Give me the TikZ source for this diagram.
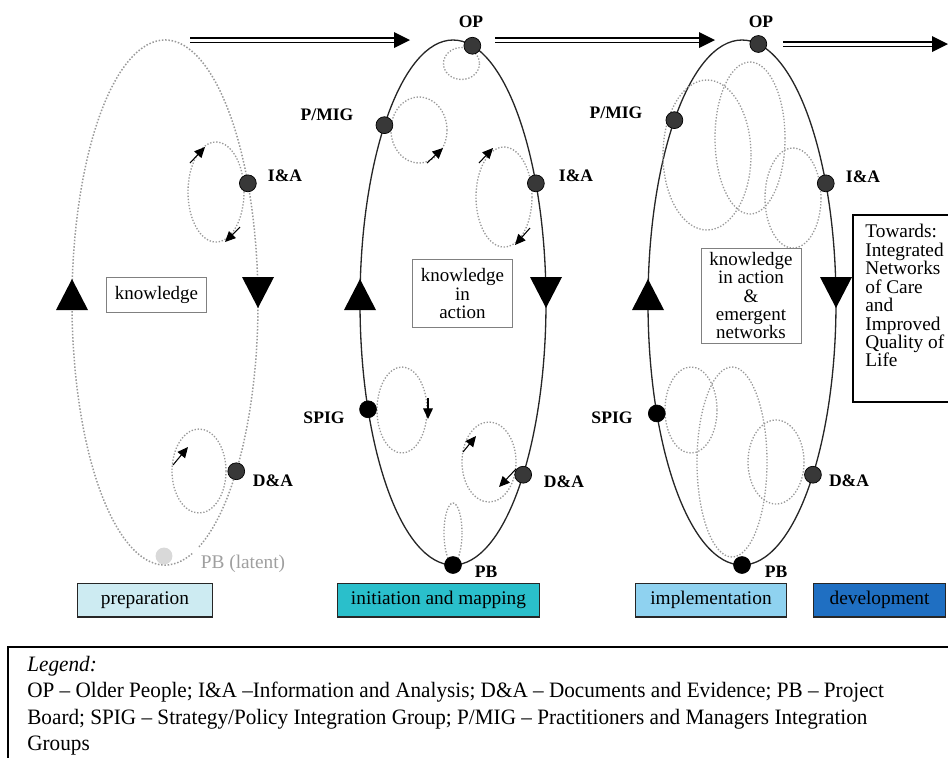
\documentclass[tikz,border=0pt]{standalone}
\usepackage{fontspec}
\setmainfont{Liberation Serif}
\newfontfamily\legendfont[Ligatures=TeX, FakeStretch=0.965]{Liberation Serif}
\usetikzlibrary{arrows.meta,positioning}

\definecolor{prepcol}{HTML}{CDEBF2}
\definecolor{initcol}{HTML}{2ABFCB}
\definecolor{implcol}{HTML}{8FD2F0}
\definecolor{devcol}{HTML}{1F6FC2}

\begin{document}
\begin{tikzpicture}[x=0.2mm, y=-0.2mm, >=Latex,
    every node/.style={font=\fontsize{10}{12}\selectfont},
    dot/.style={circle, draw=black, fill=black!78, inner sep=0pt, minimum size=9.6pt},
    blackdot/.style={dot, fill=black},
    tag/.style={font=\fontsize{10}{12}\selectfont\bfseries},
    cycleline/.style={line width=0.75pt, black!85},
    subloop/.style={gray!80, densely dotted, line width=0.75pt},
    tip/.style={-{Triangle[length=6pt,width=5.5pt]}, line width=0.6pt},
    flow/.style={double, double distance=1.7pt, line width=0.7pt, shorten >=7pt},
    kbox/.style={draw=gray, fill=white, align=center, minimum width=57pt, inner sep=2pt, font=\fontsize{10.8}{10.5}\selectfont},
    phase/.style={draw=black!85, line width=0.6pt, minimum height=19.3pt, font=\fontsize{11}{13}\selectfont}]
    \useasboundingbox (0,0) rectangle (948,758);

    % the three cycles
    \coordinate (c1) at (165,302.5);
    \coordinate (c2) at (453,302.5);
    \coordinate (c3) at (742,302.5);
    \draw[gray!80, densely dotted, line width=0.85pt] (c1) ++(73:93 and 262.5) arc[start angle=73, end angle=429, x radius=93, y radius=262.5];
    \draw[cycleline] (c2) ellipse[x radius=93, y radius=262.5];
    \draw[cycleline] (c3) ellipse[x radius=94, y radius=262.5];
    \foreach \cx/\rx in {165/93,453/93,742/94} {
        \fill (\cx-\rx-16,310) -- (\cx-\rx+16,310) -- (\cx-\rx,279) -- cycle;
        \fill (\cx+\rx-16,277) -- (\cx+\rx+16,277) -- (\cx+\rx,308) -- cycle;
    }

    % double arrows between the phases
    \coordinate (s1) at (190,40);  \coordinate (e1) at (410,40);
    \coordinate (s2) at (495,40);  \coordinate (e2) at (715,40);
    \coordinate (s3) at (783,44);  \coordinate (e3) at (948,44);
    \foreach \s/\e in {s1/e1,s2/e2,s3/e3} {
        \draw[flow] (\s) -- (\e);
        \fill (\e) -- ++(-16,-8) -- ++(0,16) -- cycle;
    }

    % small loops
    \draw[subloop] (216,192) ellipse[x radius=28, y radius=50];
    \draw[subloop] (199,471) ellipse[x radius=27, y radius=42];
    \draw[subloop] (461.5,63.5) ellipse[x radius=18, y radius=16];
    \draw[subloop] (419,130) ellipse[x radius=28, y radius=33];
    \draw[subloop] (504,197) ellipse[x radius=28, y radius=50];
    \draw[subloop] (402,410) ellipse[x radius=25, y radius=43];
    \draw[subloop] (489,462) ellipse[x radius=27, y radius=40];
    \draw[subloop] (453,533) ellipse[x radius=9, y radius=30];
    \foreach \x/\y/\a/\b in {707/155/44/75,750/138/35/76,793/198/28/50,691/410/26/43,732/462/35/95,776/462/28/42}
        \draw[subloop] (\x,\y) ellipse[x radius=\a, y radius=\b];
    \foreach \xa/\ya/\xb/\yb in {190/163/205/147,240/227/225/242,173/465/188/447,427/163/443/148,479/163/493/148,530/228/515/245,428/398/428/419,463/452/476/436,516/469/499/487}
        \draw[tip] (\xa,\ya) -- (\xb,\yb);

    % actors on the cycles
    \path (c1) ++(-27:93 and 262.5) node[dot] (ia1) {};
    \path (c1) ++(40:93 and 262.5) node[dot] (da1) {};
    \node[dot, draw=none, fill=gray!30] (pb1) at (164,556) {};
    \path (c2) ++(-78:93 and 262.5) node[dot] (op2) {};
    \path (c2) ++(-137.5:93 and 262.5) node[dot] (pm2) {};
    \path (c2) ++(-27:93 and 262.5) node[dot] (ia2) {};
    \path (c2) ++(156:93 and 262.5) node[blackdot] (sp2) {};
    \path (c2) ++(41:93 and 262.5) node[dot] (da2) {};
    \path (c2) ++(90:93 and 262.5) node[blackdot] (pb2) {};
    \path (c3) ++(-80:94 and 262.5) node[dot] (op3) {};
    \path (c3) ++(-136:94 and 262.5) node[dot] (pm3) {};
    \path (c3) ++(-27:94 and 262.5) node[dot] (ia3) {};
    \path (c3) ++(155:94 and 262.5) node[blackdot] (sp3) {};
    \path (c3) ++(41:94 and 262.5) node[dot] (da3) {};
    \path (c3) ++(90:94 and 262.5) node[blackdot] (pb3) {};

    \node[tag] (ia1t) at (285,176) {I\&A};
    \node[tag] (da1t) at (273,481) {D\&A};
    \node[text=gray!75, font=\fontsize{11}{13}\selectfont] (pb1t) at (243,564) {PB (latent)};
    \node[tag] (op2t) at (471,22) {OP};
    \node[tag] (pm2t) at (327,115) {P/MIG};
    \node[tag] (ia2t) at (576,176) {I\&A};
    \node[tag] (sp2t) at (324,418) {SPIG};
    \node[tag] (da2t) at (564,482) {D\&A};
    \node[tag] (pb2t) at (486,572) {PB};
    \node[tag] (op3t) at (761,22) {OP};
    \node[tag] (pm3t) at (616,113) {P/MIG};
    \node[tag] (ia3t) at (863,177) {I\&A};
    \node[tag] (sp3t) at (612,418) {SPIG};
    \node[tag] (da3t) at (849,481) {D\&A};
    \node[tag] (pb3t) at (776,572) {PB};

    % what each cycle carries
    \node[kbox, minimum height=20pt] (know1) at (156.5,294.5) {knowledge};
    \node[kbox, minimum height=39pt] (know2) at (462.5,293.5) {knowledge\\in\\action};
    \node[kbox, minimum height=54pt] (know3) at (751,295.5) {knowledge\\in action\\\&\\emergent\\networks};

    \node[anchor=north west, align=left, inner sep=0pt, font=\fontsize{11}{10.5}\selectfont] (goal) at (865,224)
        {Towards:\\Integrated\\Networks\\of Care\\and\\Improved\\Quality of\\Life};
    \draw[line width=0.6pt] (948,215) -| (853,402) -- (948,402);

    % phases
    \node[phase, fill=prepcol, minimum width=77pt] (prep) at (145,600) {preparation};
    \node[phase, fill=initcol, minimum width=115pt] (init) at (438.5,600) {initiation and mapping};
    \node[phase, fill=implcol, minimum width=86pt] (impl) at (711,600) {implementation};
    \node[phase, fill=devcol, minimum width=75pt] (dev) at (879.5,600) {development};

    % legend
    \draw[line width=0.6pt] (948,647) -| (8,758);
    \node[anchor=north west, align=left, inner sep=0pt, font=\legendfont\fontsize{12.5}{15}\selectfont] (legend) at (27,656)
        {\textit{Legend:}\\
         OP -- Older People; I\&A --Information and Analysis; D\&A -- Documents and Evidence; PB -- Project\\
         Board; SPIG -- Strategy/Policy Integration Group; P/MIG -- Practitioners and Managers Integration\\
         Groups};
\end{tikzpicture}
\end{document}
